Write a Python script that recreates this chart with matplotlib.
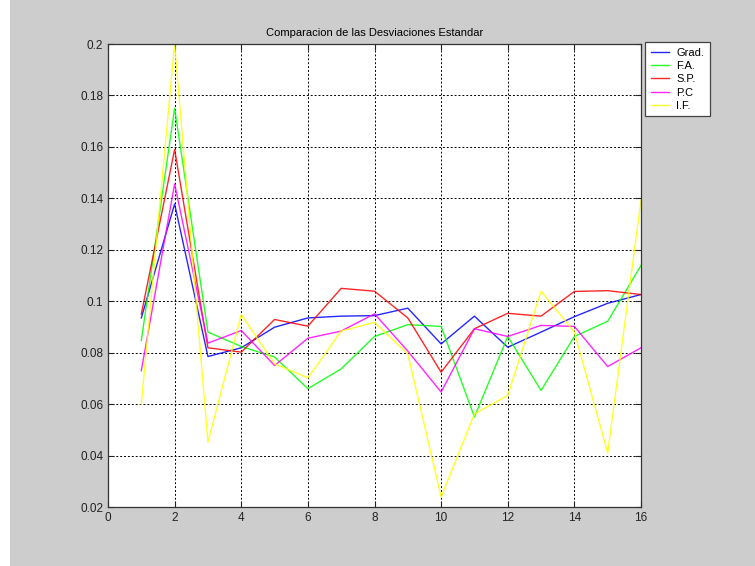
import matplotlib
matplotlib.use('Agg')

import matplotlib.pyplot as plt
from matplotlib.patches import Rectangle

# ---- data ----
x = list(range(1, 17))
grad = [0.0935, 0.1378, 0.0785, 0.0819, 0.0899, 0.0935, 0.0942, 0.0944,
        0.0973, 0.0834, 0.0942, 0.0821, 0.0880, 0.0940, 0.0992, 0.1026]
fa = [0.0847, 0.1750, 0.0880, 0.0824, 0.0783, 0.0660, 0.0737, 0.0863,
      0.0909, 0.0902, 0.0550, 0.0863, 0.0653, 0.0863, 0.0922, 0.1139]
sp = [0.0950, 0.1590, 0.0819, 0.0802, 0.0929, 0.0903, 0.1050, 0.1039,
      0.0935, 0.0724, 0.0893, 0.0953, 0.0942, 0.1038, 0.1041, 0.1026]
pc = [0.0730, 0.1456, 0.0837, 0.0886, 0.0750, 0.0856, 0.0884, 0.0951,
      0.0806, 0.0647, 0.0893, 0.0863, 0.0906, 0.0902, 0.0746, 0.0819]
inf = [0.0600, 0.2000, 0.0452, 0.0948, 0.0757, 0.0702, 0.0884, 0.0918,
       0.0795, 0.0239, 0.0562, 0.0634, 0.1039, 0.0880, 0.0410, 0.1393]

labels = ['Grad.', 'F.A.', 'S.P.', 'P.C', 'I.F.']
colors = ['#0000ff', '#00ff00', '#ff0000', '#ff00ff', '#ffff00']
xticks = [0, 2, 4, 6, 8, 10, 12, 14, 16]
yticks = [0.02, 0.04, 0.06, 0.08, 0.1, 0.12, 0.14, 0.16, 0.18, 0.2]
ytick_labels = ['0.02', '0.04', '0.06', '0.08', '0.1', '0.12', '0.14', '0.16', '0.18', '0.2']

plt.rcParams['font.family'] = ['Liberation Sans', 'DejaVu Sans']

fig = plt.figure(figsize=(7.55, 5.66), dpi=100, facecolor='#cdcdcd')
# white strip at the left edge of the screenshot
fig.patches.append(Rectangle((0, 0), 10 / 755, 1, transform=fig.transFigure,
                             facecolor='white', edgecolor='none', zorder=-1))

ax = fig.add_axes([108 / 755, 1 - 507 / 566, (641 - 108) / 755, (507 - 44) / 566])
ax.set_facecolor('white')

for series, lab, col in zip([grad, fa, sp, pc, inf], labels, colors):
    ax.plot(x, series, color=col, lw=1.0, label=lab, alpha=0.85)

ax.set_xlim(0, 16)
ax.set_ylim(0.02, 0.2)
ax.set_xticks(xticks)
ax.set_yticks(yticks)
ax.set_yticklabels(ytick_labels)
ax.tick_params(direction='in', labelsize=8.5, length=4, top=True, right=True,
               colors='#222222')
ax.grid(True, color='black', linestyle=(0, (2, 2)), lw=0.7)
for s in ax.spines.values():
    s.set_color('#333333')
    s.set_linewidth(0.9)

ax.set_title('Comparacion de las Desviaciones Estandar', fontsize=8, pad=6)

leg = ax.legend(loc='upper left', bbox_to_anchor=(645 / 755, 1 - 42 / 566),
                bbox_transform=fig.transFigure, fontsize=8, frameon=True,
                fancybox=False, edgecolor='#444444', framealpha=1,
                handlelength=1.7, borderpad=0.5, labelspacing=0.3,
                handletextpad=0.6, borderaxespad=0)
leg.get_frame().set_linewidth(0.9)

fig.savefig('out.png', dpi=100, facecolor=fig.get_facecolor())
